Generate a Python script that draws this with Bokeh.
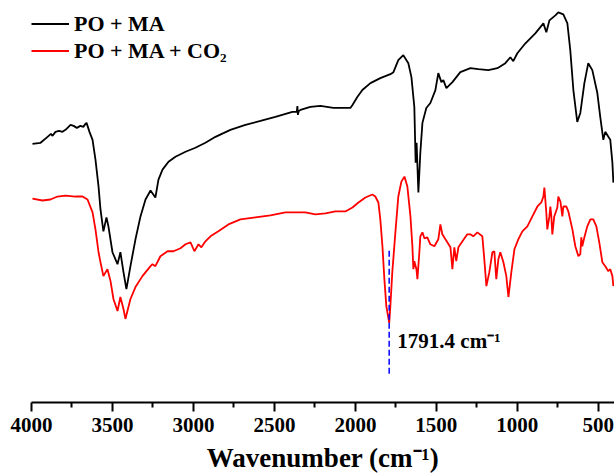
from bokeh.plotting import figure
from bokeh.models import Range1d, Legend, LegendItem, Label, FixedTicker
from bokeh.embed import file_html
from bokeh.resources import INLINE

# ---- data (wavenumber in cm^-1, transmittance in arbitrary units) ----
wn_po_ma = [3994, 3944, 3901, 3880, 3870, 3852, 3830, 3809, 3790, 3759, 3740, 3720, 3698, 3680, 3667, 3660,
            3642, 3623, 3605, 3586, 3574, 3556, 3537, 3525, 3500, 3469, 3451, 3432, 3414, 3389, 3358, 3327,
            3296, 3265, 3235, 3216, 3191, 3154, 3111, 3049, 2988, 2926, 2864, 2772, 2679, 2586, 2494, 2389,
            2362, 2358, 2355, 2350, 2339, 2278, 2216, 2136, 2074, 2031, 2018, 1988, 1957, 1907, 1846, 1784,
            1765, 1735, 1704, 1673, 1654, 1636, 1628, 1622, 1611, 1599, 1586, 1562, 1537, 1525, 1506, 1488,
            1469, 1457, 1438, 1401, 1352, 1290, 1241, 1179, 1123, 1074, 1043, 1025, 1000, 950, 889, 839,
            821, 802, 765, 747, 716, 691, 673, 654, 630, 611, 586, 562, 537, 506, 488, 469, 457, 438, 426,
            413, 407]
t_po_ma = [260, 261, 267, 270, 268, 272, 273, 272, 274, 279, 278, 276, 278, 277, 280, 281,
           272, 264, 244, 217, 194, 172, 186, 177, 151, 139, 151, 131, 114, 137, 164, 187,
           204, 213, 206, 224, 234, 242, 247, 252, 256, 261, 267, 274, 279, 283, 287, 292,
           292, 298, 289, 293, 294, 297, 298, 296, 296, 296, 299, 307, 314, 321, 326, 330,
           332, 344, 349, 341, 327, 297, 241, 261, 211, 251, 281, 296, 301, 306, 314, 331,
           322, 324, 316, 322, 332, 336, 335, 334, 336, 341, 347, 343, 351, 361, 371, 381,
           372, 384, 389, 392, 390, 381, 354, 314, 282, 291, 321, 341, 334, 311, 287, 264, 272, 267, 264,
           241, 221]

wn_po_ma_co2 = [3994, 3932, 3883, 3840, 3790, 3728, 3685, 3654, 3623, 3605, 3586, 3574, 3556, 3531, 3512, 3494,
                3469, 3451, 3432, 3420, 3389, 3358, 3315, 3265, 3253, 3235, 3204, 3160, 3123, 3080, 3049, 3018,
                2994, 2969, 2951, 2926, 2895, 2846, 2784, 2710, 2617, 2525, 2432, 2370, 2309, 2247, 2185, 2123,
                2062, 2018, 1981, 1938, 1895, 1877, 1858, 1846, 1833, 1821, 1809, 1791, 1784, 1772, 1753, 1735,
                1716, 1697, 1679, 1660, 1648, 1642, 1636, 1623, 1617, 1605, 1599, 1586, 1574, 1556, 1537, 1512,
                1488, 1475, 1463, 1444, 1413, 1401, 1389, 1377, 1364, 1339, 1309, 1290, 1272, 1247, 1216, 1204,
                1191, 1173, 1154, 1142, 1130, 1117, 1105, 1086, 1068, 1055, 1037, 1018, 994, 969, 938, 907,
                876, 852, 839, 833, 821, 815, 802, 796, 790, 784, 772, 753, 747, 734, 722, 716, 698, 685,
                660, 642, 623, 611, 605, 599, 586, 568, 549, 531, 512, 494, 475, 457, 438, 426, 413, 407]
t_po_ma_co2 = [205, 203, 204, 207, 208, 207, 207, 204, 191, 174, 151, 141, 127, 134, 122, 104,
               92, 106, 94, 84, 104, 116, 127, 137, 139, 137, 147, 152, 152, 155, 159, 161,
               152, 159, 156, 162, 167, 172, 179, 184, 186, 188, 191, 191, 191, 189, 190, 192,
               192, 196, 201, 206, 209, 207, 201, 184, 157, 124, 97, 80, 97, 131, 171, 207,
               222, 227, 217, 187, 157, 134, 142, 134, 124, 151, 167, 171, 165, 166, 159, 157,
               164, 179, 169, 164, 156, 134, 156, 142, 156, 162, 169, 169, 167, 171, 167, 144,
               117, 131, 151, 152, 124, 144, 151, 141, 127, 106, 131, 154, 164, 172, 177, 187,
               197, 201, 207, 216, 191, 174, 187, 197, 187, 169, 187, 196, 207, 202, 187, 197, 197, 192,
               174, 157, 147, 149, 166, 157, 166, 177, 184, 184, 177, 161, 141, 137, 132, 134, 127, 117]

series_labels = ["PO + MA", "PO + MA + CO\u2082"]
x_ticks = [4000, 3500, 3000, 2500, 2000, 1500, 1000, 500]
x_minor_ticks = [3750, 3250, 2750, 2250, 1750, 1250, 750]
peak_wn = 1791.4
peak_label = "1791.4 cm\u207b\u00b9"

FONT = "Liberation Serif"

p = figure(width=614, height=475, output_backend="svg", toolbar_location=None,
           x_range=Range1d(4000, 400), y_range=Range1d(0, 404),
           y_axis_location=None, min_border_left=31, min_border_right=0,
           min_border_top=0, min_border_bottom=71)
p.grid.visible = False
p.outline_line_color = None
p.background_fill_color = "white"
p.border_fill_color = "white"

ax = p.xaxis[0]
ax.ticker = FixedTicker(ticks=x_ticks, minor_ticks=x_minor_ticks)
ax.axis_line_width = 2
ax.major_tick_line_width = 2
ax.minor_tick_line_width = 2
ax.major_tick_out = 9
ax.major_tick_in = 0
ax.minor_tick_out = 5
ax.minor_tick_in = 0
ax.major_label_text_font = FONT
ax.major_label_text_font_style = "bold"
ax.major_label_text_font_size = "21px"
ax.major_label_text_color = "black"
ax.major_label_standoff = 6
ax.axis_label = "Wavenumber (cm\u207b\u00b9)"
ax.axis_label_text_font = FONT
ax.axis_label_text_font_style = "bold"
ax.axis_label_text_font_size = "27px"
ax.axis_label_text_color = "black"
ax.axis_label_standoff = 8

r1 = p.line(wn_po_ma, t_po_ma, line_color="black", line_width=1.8)
r2 = p.line(wn_po_ma_co2, t_po_ma_co2, line_color="red", line_width=1.8)

p.segment(x0=[peak_wn], y0=[29], x1=[peak_wn], y1=[154], line_color="blue",
          line_dash="6 3", line_width=1.5)
p.add_layout(Label(x=1741, y=62, text=peak_label, text_font=FONT, text_font_style="bold",
                   text_font_size="21px", text_baseline="middle", text_color="black"))

legend = Legend(items=[LegendItem(label=series_labels[0], renderers=[r1]),
                       LegendItem(label=series_labels[1], renderers=[r2])],
                location=(0, 338), border_line_color=None, background_fill_alpha=0,
                glyph_width=38, glyph_height=27, label_height=27, label_standoff=5,
                padding=0, margin=0, spacing=0,
                label_text_font=FONT, label_text_font_style="bold",
                label_text_font_size="22px", label_text_color="black")
p.add_layout(legend)

open("out.html", "w").write(file_html(p, INLINE))
